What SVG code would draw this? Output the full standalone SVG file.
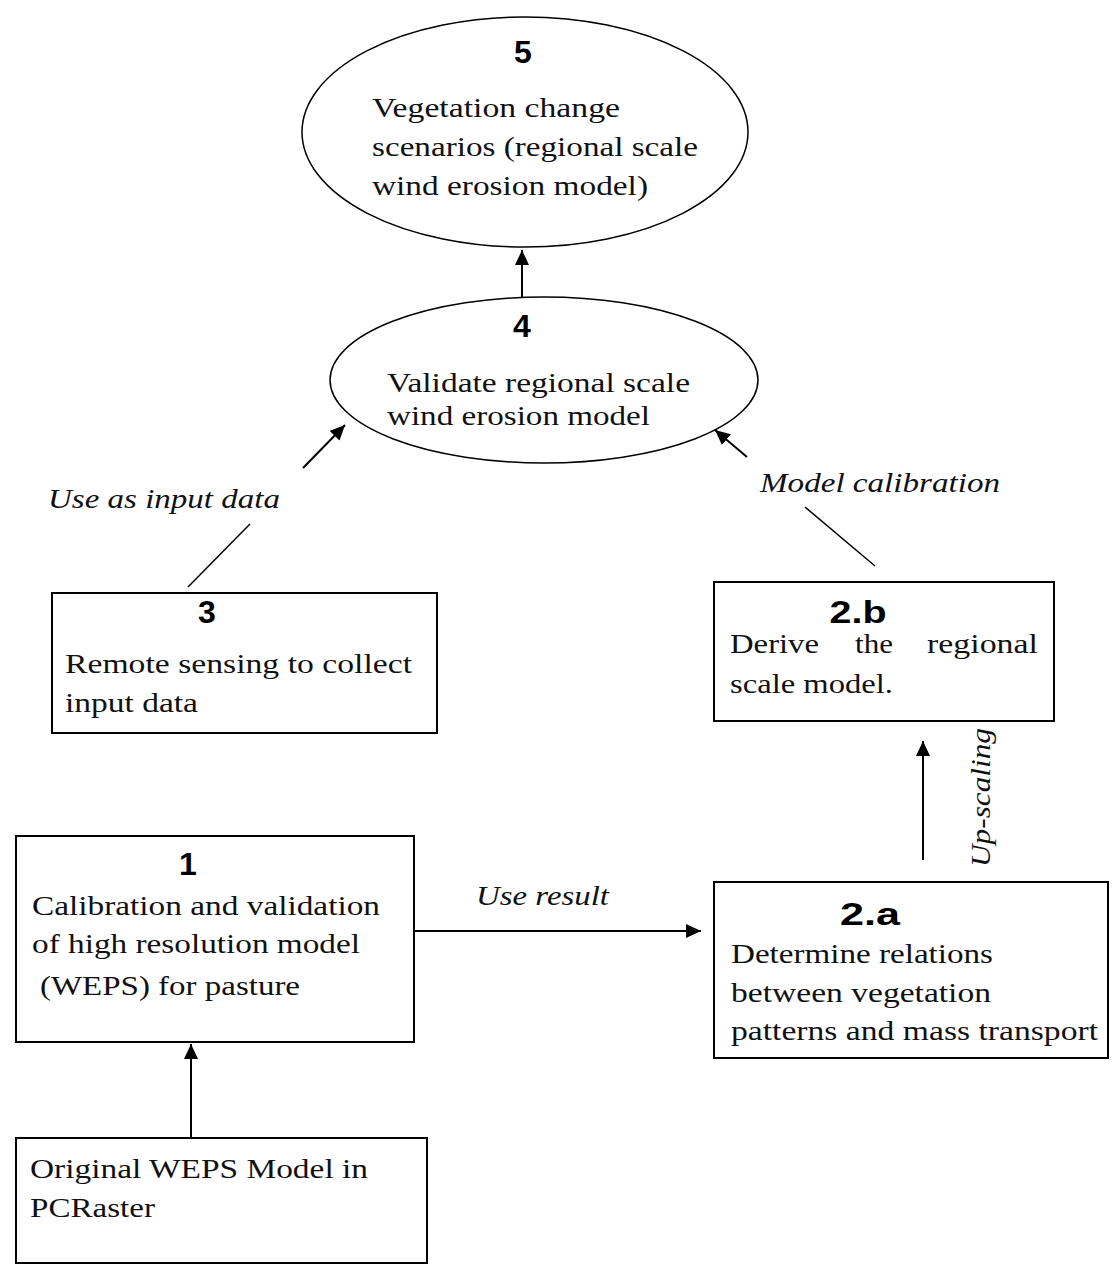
<svg xmlns="http://www.w3.org/2000/svg" width="1112" height="1265" viewBox="0 0 1112 1265">
<style>
.bg{fill:#ffffff}
.box{fill:#ffffff;stroke:#000;stroke-width:2}
.ell{fill:#ffffff;stroke:#000;stroke-width:1.5}
.t{font-family:"Liberation Serif","Times New Roman",serif;font-size:27px;fill:#111}
.num{font-family:"Liberation Sans",Arial,sans-serif;font-size:32px;font-weight:900;fill:#000;text-anchor:middle}
.lbl{font-family:"Liberation Serif","Times New Roman",serif;font-style:italic;font-size:27px;fill:#111}
.ln{stroke:#000;stroke-width:2;fill:none}
.thin{stroke:#000;stroke-width:1.5;fill:none}
</style>
<defs>
<marker id="ah" markerUnits="userSpaceOnUse" markerWidth="16" markerHeight="14" refX="15" refY="7" orient="auto">
<path d="M0,0 L15,7 L0,14 z" fill="#000"/>
</marker>
</defs>
<rect class="bg" x="0" y="0" width="1112" height="1265"/>

<g id="node5">
<ellipse class="ell" cx="525" cy="132" rx="223" ry="115"/>
<text class="num" x="523" y="63">5</text>
<text class="t" x="372" y="117" textLength="248" lengthAdjust="spacingAndGlyphs">Vegetation change</text>
<text class="t" x="372" y="156" textLength="326" lengthAdjust="spacingAndGlyphs">scenarios (regional scale</text>
<text class="t" x="372" y="195" textLength="276" lengthAdjust="spacingAndGlyphs">wind erosion model)</text>
</g>

<g id="node4">
<ellipse class="ell" cx="544" cy="380" rx="214" ry="83"/>
<text class="num" x="522" y="337">4</text>
<text class="t" x="387" y="392" textLength="303" lengthAdjust="spacingAndGlyphs">Validate regional scale</text>
<text class="t" x="387" y="425" textLength="263" lengthAdjust="spacingAndGlyphs">wind erosion model</text>
</g>

<g id="node3">
<rect class="box" x="52" y="593" width="385" height="140"/>
<text class="num" x="207" y="623">3</text>
<text class="t" x="65" y="673" textLength="347" lengthAdjust="spacingAndGlyphs">Remote sensing to collect</text>
<text class="t" x="65" y="712" textLength="133" lengthAdjust="spacingAndGlyphs">input data</text>
</g>

<g id="node2b">
<rect class="box" x="714" y="582" width="340" height="139"/>
<text class="num" x="858" y="623" textLength="57" lengthAdjust="spacingAndGlyphs">2.b</text>
<text class="t" x="730" y="653" textLength="89" lengthAdjust="spacingAndGlyphs">Derive</text>
<text class="t" x="855" y="653" textLength="38" lengthAdjust="spacingAndGlyphs">the</text>
<text class="t" x="927" y="653" textLength="111" lengthAdjust="spacingAndGlyphs">regional</text>
<text class="t" x="730" y="693" textLength="163" lengthAdjust="spacingAndGlyphs">scale model.</text>
</g>

<g id="node1">
<rect class="box" x="16" y="836" width="398" height="206"/>
<text class="num" x="188" y="875">1</text>
<text class="t" x="32" y="915" textLength="348" lengthAdjust="spacingAndGlyphs">Calibration and validation</text>
<text class="t" x="32" y="953" textLength="328" lengthAdjust="spacingAndGlyphs">of high resolution model</text>
<text class="t" x="40" y="995" textLength="260" lengthAdjust="spacingAndGlyphs">(WEPS) for pasture</text>
</g>

<g id="node2a">
<rect class="box" x="714" y="882" width="394" height="176"/>
<text class="num" x="870" y="925" textLength="60" lengthAdjust="spacingAndGlyphs">2.a</text>
<text class="t" x="731" y="963" textLength="262" lengthAdjust="spacingAndGlyphs">Determine relations</text>
<text class="t" x="731" y="1002" textLength="260" lengthAdjust="spacingAndGlyphs">between vegetation</text>
<text class="t" x="731" y="1040" textLength="367" lengthAdjust="spacingAndGlyphs">patterns and mass transport</text>
</g>

<g id="node0">
<rect class="box" x="16" y="1138" width="411" height="125"/>
<text class="t" x="30" y="1178" textLength="338" lengthAdjust="spacingAndGlyphs">Original WEPS Model in</text>
<text class="t" x="30" y="1217" textLength="125" lengthAdjust="spacingAndGlyphs">PCRaster</text>
</g>

<g id="connectors">
<line class="ln" x1="522" y1="297" x2="522" y2="250" marker-end="url(#ah)"/>
<line class="thin" x1="188" y1="587" x2="250" y2="524"/>
<line class="ln" x1="303" y1="468" x2="345" y2="425" marker-end="url(#ah)"/>
<text class="lbl" x="48" y="508" textLength="232" lengthAdjust="spacingAndGlyphs">Use as input data</text>
<line class="thin" x1="875" y1="566" x2="805" y2="507"/>
<line class="ln" x1="747" y1="457" x2="715" y2="430" marker-end="url(#ah)"/>
<text class="lbl" x="760" y="492" textLength="240" lengthAdjust="spacingAndGlyphs">Model calibration</text>
<line class="ln" x1="923" y1="860" x2="923" y2="741" marker-end="url(#ah)"/>
<text class="lbl" transform="translate(990,867) rotate(-90)" x="0" y="0" textLength="139" lengthAdjust="spacingAndGlyphs">Up-scaling</text>
<line class="ln" x1="414" y1="931" x2="701" y2="931" marker-end="url(#ah)"/>
<text class="lbl" x="476" y="905" textLength="133" lengthAdjust="spacingAndGlyphs">Use result</text>
<line class="ln" x1="191" y1="1138" x2="191" y2="1044" marker-end="url(#ah)"/>
</g>
</svg>
